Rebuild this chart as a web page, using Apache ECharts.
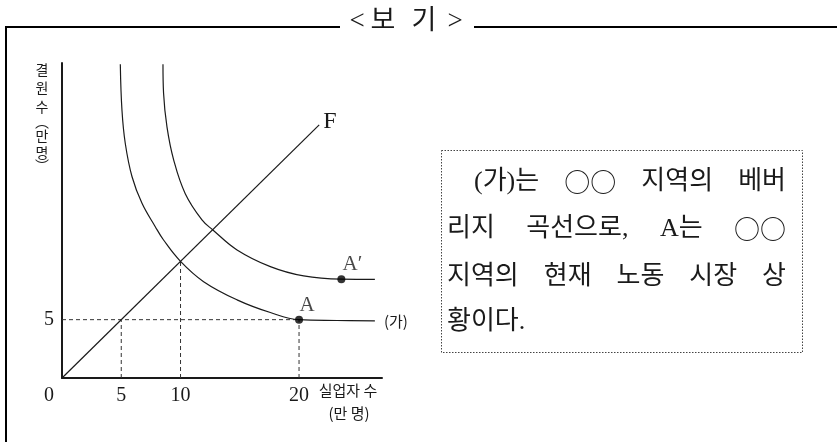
<!DOCTYPE html>
<html>
<head>
<meta charset="utf-8">
<script src="https://cdn.jsdelivr.net/npm/echarts@6/dist/echarts.min.js"></script>
<style>
  html, body { margin: 0; padding: 0; background: #fff; }
  #chart { width: 837px; height: 442px; }
</style>
</head>
<body>
<div id="chart"></div>
<script>
// 축 눈금
var xTicks = [5, 10, 20];
var yTicks = [5];
// (가) 베버리지 곡선, 이동한 곡선, 45도선 F
var curveGa = [[4.92, 26.9], [5.06, 22.95], [5.34, 20.1], [5.91, 17.25], [6.75, 14.97], [7.87, 12.97], [8.57, 11.83], [10, 10], [11.95, 8.26], [14.77, 6.7], [17.58, 5.61], [20, 5], [23.2, 4.93], [26.4, 4.9]];
var curveA2 = [[8.52, 26.9], [8.57, 24.4], [8.86, 21.5], [9.42, 18.7], [10.4, 15.8], [11.81, 13.55], [12.73, 12.69], [14.77, 10.98], [17.58, 9.55], [20.39, 8.75], [23.57, 8.47], [26.4, 8.45]];
var lineF = [[0, 0], [21.7, 21.7]];
var pointA = [20, 5];
var pointA2 = [23.57, 8.47];
// 점선 보조선
var guides = [[[0, 5], [20, 5]], [[5, 0], [5, 5]], [[10, 0], [10, 10]], [[20, 0], [20, 5]]];
// 설명 상자 문장
var boxLines = [
  ['(가)는', '○○', '지역의', '베버'],
  ['리지', '곡선으로,', 'A는', '○○'],
  ['지역의', '현재', '노동', '시장', '상'],
  ['황이다.']
];

var SERIF = "'Liberation Serif', 'Noto Sans CJK KR', serif";
var SANS = "'Noto Sans CJK KR', sans-serif";
var INK = '#1a1a1a';

var chart = echarts.init(document.getElementById('chart'));

var series = [];
guides.forEach(function (g) {
  series.push({
    type: 'line', data: g, symbol: 'none', silent: true,
    lineStyle: { color: '#333', width: 1, type: [4, 3] }
  });
});
series.push({
  type: 'line', data: lineF, symbol: 'none',
  lineStyle: { color: INK, width: 1.2 },
  endLabel: { show: true, formatter: 'F', fontFamily: SERIF, fontSize: 24, color: INK, distance: 4, offset: [0, -3] }
});
series.push({
  type: 'line', data: curveGa, symbol: 'none', smooth: 0.4,
  lineStyle: { color: INK, width: 1.2 },
  endLabel: { show: true, formatter: '(가)', fontFamily: SANS, fontSize: 15, color: INK, distance: 9 }
});
series.push({
  type: 'line', data: curveA2, symbol: 'none', smooth: 0.4,
  lineStyle: { color: INK, width: 1.2 }
});
series.push({
  type: 'scatter', symbolSize: 8, itemStyle: { color: '#000' }, z: 5,
  data: [
    { value: pointA, label: { formatter: 'A', offset: [8, 5] } },
    { value: pointA2, label: { formatter: 'A′', offset: [11, 5] } }
  ],
  label: { show: true, position: 'top', fontFamily: SERIF, fontSize: 21, color: INK }
});

// 설명 상자 글자 배치 (양쪽 맞춤)
var boxLayout = [
  { x0: 474, x1: 786, y: 182 },
  { x0: 447, x1: 786, y: 229 },
  { x0: 447, x1: 786, y: 277 },
  { x0: 447, x1: null, y: 322 }
];
var ctx = document.createElement('canvas').getContext('2d');
function wordFont(w) {
  return '26px ' + (w.indexOf('○') >= 0 ? SANS : SERIF);
}
var graphics = [];
boxLines.forEach(function (words, i) {
  var lay = boxLayout[i];
  var widths = words.map(function (w) { ctx.font = wordFont(w); return ctx.measureText(w).width; });
  var total = widths.reduce(function (a, b) { return a + b; }, 0);
  var gap = (lay.x1 && words.length > 1) ? (lay.x1 - lay.x0 - total) / (words.length - 1) : 0;
  var x = lay.x0;
  words.forEach(function (w, j) {
    graphics.push({
      type: 'text', x: x, y: lay.y,
      style: { text: w, font: wordFont(w), fill: INK, textVerticalAlign: 'middle', textAlign: 'left' }
    });
    x += widths[j] + gap;
  });
});

// 외곽 틀과 제목
graphics.push(
  { type: 'line', shape: { x1: 5, y1: 27, x2: 340, y2: 27 }, style: { stroke: '#000', lineWidth: 2 } },
  { type: 'line', shape: { x1: 474, y1: 27, x2: 837, y2: 27 }, style: { stroke: '#000', lineWidth: 2 } },
  { type: 'line', shape: { x1: 6, y1: 26, x2: 6, y2: 442 }, style: { stroke: '#000', lineWidth: 2 } },
  { type: 'rect', shape: { x: 441.5, y: 150.5, width: 361, height: 202 }, style: { fill: 'none', stroke: '#444', lineWidth: 1, lineDash: [1.5, 1.5] } }
);
[['<', 357], ['보', 383], ['기', 424], ['>', 455]].forEach(function (t) {
  graphics.push({
    type: 'text', x: t[1], y: 22,
    style: { text: t[0], font: '27px ' + SERIF, fill: INK, textAlign: 'center', textVerticalAlign: 'middle' }
  });
});

// 축 이름
[['결', 70], ['원', 88], ['수', 107], ['︵', 122], ['만', 136], ['명', 153], ['︶', 166]].forEach(function (t) {
  graphics.push({
    type: 'text', x: 42, y: t[1],
    style: { text: t[0], font: '14px ' + SANS, fill: INK, textAlign: 'center', textVerticalAlign: 'middle' }
  });
});
graphics.push(
  { type: 'text', x: 348, y: 390, style: { text: '실업자 수', font: '15px ' + SANS, fill: INK, textAlign: 'center', textVerticalAlign: 'middle' } },
  { type: 'text', x: 349, y: 413, style: { text: '(만 명)', font: '15px ' + SANS, fill: INK, textAlign: 'center', textVerticalAlign: 'middle' } },
  { type: 'text', x: 49, y: 396, style: { text: '0', font: '20px ' + SERIF, fill: INK, textAlign: 'center', textVerticalAlign: 'middle' } }
);

var option = {
  animation: false,
  backgroundColor: '#fff',
  grid: { left: 62, right: 455, top: 63, bottom: 64 },
  xAxis: {
    type: 'value', min: 0, max: 27,
    splitLine: { show: false },
    axisTick: { show: false },
    axisLine: { lineStyle: { color: INK, width: 2 } },
    axisLabel: { customValues: xTicks, fontFamily: SERIF, fontSize: 20, color: INK, margin: 8 }
  },
  yAxis: {
    type: 'value', min: 0, max: 27,
    splitLine: { show: false },
    axisTick: { show: false },
    axisLine: { lineStyle: { color: INK, width: 2 } },
    axisLabel: { customValues: yTicks, fontFamily: SERIF, fontSize: 20, color: INK, margin: 8 }
  },
  series: series,
  graphic: graphics
};
chart.setOption(option);
</script>
</body>
</html>
